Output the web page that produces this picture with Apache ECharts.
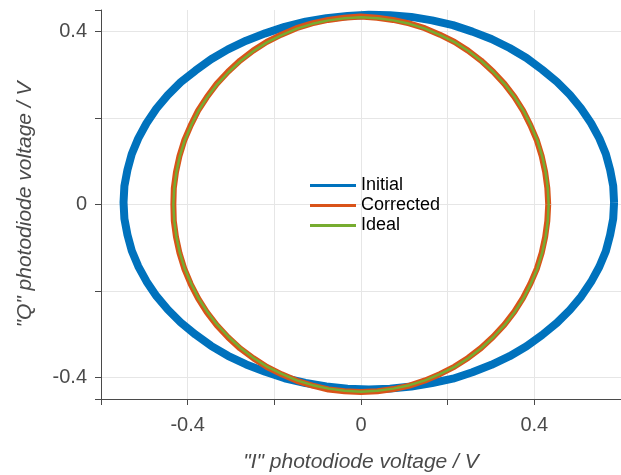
<!DOCTYPE html>
<html>
<head>
<meta charset="utf-8">
<title>IQ photodiode voltages</title>
<script src="https://cdn.jsdelivr.net/npm/echarts@6/dist/echarts.min.js"></script>
<style>
  html, body { margin: 0; padding: 0; background: #fff; }
  #chart { width: 621px; height: 475px; }
</style>
</head>
<body>
<div id="chart"></div>
<script>
// values: [I, Q] in volts, going round each loop
const initialPts = [
  [0.584, 0.005], [0.582, 0.043], [0.575, 0.080], [0.565, 0.117], [0.550, 0.153], [0.531, 0.188],
  [0.508, 0.222], [0.482, 0.254], [0.452, 0.284], [0.418, 0.312], [0.382, 0.339], [0.343, 0.362],
  [0.301, 0.383], [0.257, 0.400], [0.212, 0.415], [0.164, 0.426], [0.116, 0.434], [0.067, 0.438],
  [0.018, 0.439], [-0.031, 0.436], [-0.080, 0.431], [-0.128, 0.423], [-0.176, 0.411], [-0.221, 0.396],
  [-0.265, 0.379], [-0.307, 0.359], [-0.346, 0.336], [-0.382, 0.310], [-0.416, 0.283], [-0.446, 0.253],
  [-0.472, 0.222], [-0.495, 0.188], [-0.514, 0.153], [-0.529, 0.117], [-0.539, 0.080], [-0.546, 0.043],
  [-0.548, 0.005], [-0.546, -0.033], [-0.539, -0.070], [-0.529, -0.107], [-0.514, -0.143], [-0.495, -0.178],
  [-0.472, -0.212], [-0.446, -0.243], [-0.416, -0.273], [-0.382, -0.301], [-0.346, -0.327], [-0.307, -0.350],
  [-0.265, -0.370], [-0.221, -0.387], [-0.176, -0.402], [-0.128, -0.413], [-0.080, -0.421], [-0.031, -0.426],
  [0.018, -0.428], [0.067, -0.426], [0.116, -0.421], [0.164, -0.413], [0.212, -0.403], [0.257, -0.388],
  [0.301, -0.371], [0.343, -0.351], [0.382, -0.328], [0.418, -0.302], [0.452, -0.274], [0.482, -0.244],
  [0.508, -0.213], [0.531, -0.179], [0.550, -0.144], [0.565, -0.108], [0.575, -0.070], [0.582, -0.033],
  [0.584, 0.005]
];
const correctedPts = [
  [0.432, 0.000], [0.430, 0.038], [0.425, 0.075], [0.417, 0.112], [0.406, 0.148], [0.391, 0.183],
  [0.374, 0.217], [0.354, 0.249], [0.331, 0.279], [0.305, 0.307], [0.277, 0.333], [0.247, 0.356],
  [0.216, 0.376], [0.182, 0.393], [0.147, 0.408], [0.111, 0.419], [0.074, 0.427], [0.037, 0.432],
  [-0.001, 0.435], [-0.039, 0.432], [-0.076, 0.427], [-0.113, 0.419], [-0.149, 0.408], [-0.184, 0.393],
  [-0.218, 0.376], [-0.249, 0.356], [-0.279, 0.333], [-0.307, 0.307], [-0.333, 0.279], [-0.356, 0.248],
  [-0.376, 0.217], [-0.393, 0.183], [-0.408, 0.148], [-0.419, 0.112], [-0.427, 0.075], [-0.432, 0.038],
  [-0.433, 0.000], [-0.432, -0.038], [-0.427, -0.075], [-0.419, -0.112], [-0.408, -0.148], [-0.393, -0.184],
  [-0.376, -0.217], [-0.356, -0.249], [-0.333, -0.279], [-0.307, -0.307], [-0.279, -0.333], [-0.248, -0.356],
  [-0.217, -0.376], [-0.183, -0.393], [-0.148, -0.408], [-0.112, -0.419], [-0.075, -0.428], [-0.038, -0.432],
  [0.000, -0.434], [0.038, -0.432], [0.075, -0.427], [0.112, -0.419], [0.148, -0.407], [0.183, -0.392],
  [0.216, -0.375], [0.247, -0.355], [0.277, -0.332], [0.305, -0.306], [0.331, -0.278], [0.354, -0.248],
  [0.374, -0.216], [0.391, -0.183], [0.406, -0.148], [0.417, -0.112], [0.425, -0.075], [0.430, -0.038],
  [0.432, 0.000]
];
const idealPts = [
  [0.433, 0.000], [0.431, 0.038], [0.426, 0.075], [0.418, 0.112], [0.407, 0.148], [0.392, 0.183],
  [0.375, 0.217], [0.355, 0.248], [0.332, 0.278], [0.306, 0.306], [0.278, 0.332], [0.248, 0.355],
  [0.217, 0.375], [0.183, 0.392], [0.148, 0.407], [0.112, 0.418], [0.075, 0.426], [0.038, 0.431],
  [0.000, 0.433], [-0.038, 0.431], [-0.075, 0.426], [-0.112, 0.418], [-0.148, 0.407], [-0.183, 0.392],
  [-0.217, 0.375], [-0.248, 0.355], [-0.278, 0.332], [-0.306, 0.306], [-0.332, 0.278], [-0.355, 0.248],
  [-0.375, 0.217], [-0.392, 0.183], [-0.407, 0.148], [-0.418, 0.112], [-0.426, 0.075], [-0.431, 0.038],
  [-0.433, 0.000], [-0.431, -0.038], [-0.426, -0.075], [-0.418, -0.112], [-0.407, -0.148], [-0.392, -0.183],
  [-0.375, -0.217], [-0.355, -0.248], [-0.332, -0.278], [-0.306, -0.306], [-0.278, -0.332], [-0.248, -0.355],
  [-0.217, -0.375], [-0.183, -0.392], [-0.148, -0.407], [-0.112, -0.418], [-0.075, -0.426], [-0.038, -0.431],
  [0.000, -0.433], [0.038, -0.431], [0.075, -0.426], [0.112, -0.418], [0.148, -0.407], [0.183, -0.392],
  [0.217, -0.375], [0.248, -0.355], [0.278, -0.332], [0.306, -0.306], [0.332, -0.278], [0.355, -0.248],
  [0.375, -0.217], [0.392, -0.183], [0.407, -0.148], [0.418, -0.112], [0.426, -0.075], [0.431, -0.038],
  [0.433, 0.000]
];
const seriesNames = ['Initial', 'Corrected', 'Ideal'];
const seriesColors = ['#0072BD', '#D95319', '#77AC30'];
const xLabels = [-0.4, 0, 0.4];
const yLabels = [-0.4, 0, 0.4];

const font = 'Liberation Sans, Arial, Helvetica, sans-serif';
const axisGray = '#4a4a4a';

// only some of the ticks carry a label
function onlyLabels(list) {
  return function (v) {
    for (let i = 0; i < list.length; i++) {
      if (Math.abs(v - list[i]) < 1e-6) return String(list[i]);
    }
    return '';
  };
}

const myChart = echarts.init(document.getElementById('chart'), null, { renderer: 'canvas' });

const option = {
  animation: false,
  backgroundColor: '#fff',
  grid: { left: 101, right: 0, top: 10, bottom: 76, containLabel: false, outerBoundsMode: 'none' },
  legend: {
    orient: 'vertical',
    left: 310,
    top: 176,
    icon: 'rect',
    itemWidth: 46,
    itemHeight: 3,
    itemGap: 1,
    padding: 0,
    data: seriesNames,
    textStyle: { color: '#000', fontSize: 18, fontFamily: font, lineHeight: 19 }
  },
  xAxis: {
    type: 'value',
    min: -0.6,
    max: 0.6,
    interval: 0.2,
    name: '"I" photodiode voltage / V',
    nameLocation: 'middle',
    nameGap: 53,
    nameTextStyle: { color: axisGray, fontSize: 21, fontStyle: 'italic', fontFamily: font },
    axisLine: { show: true, onZero: false, lineStyle: { color: axisGray, width: 1 } },
    axisTick: { show: true, length: 6, lineStyle: { color: axisGray } },
    axisLabel: { color: axisGray, fontSize: 20, fontFamily: font, margin: 16, formatter: onlyLabels(xLabels) },
    splitLine: { show: true, lineStyle: { color: '#e6e6e6', width: 1 } }
  },
  yAxis: {
    type: 'value',
    min: -0.45,
    max: 0.45,
    splitNumber: 5,
    name: '"Q" photodiode voltage / V',
    nameLocation: 'middle',
    nameGap: 65,
    nameTextStyle: { color: axisGray, fontSize: 21, fontStyle: 'italic', fontFamily: font },
    axisLine: { show: true, onZero: false, lineStyle: { color: axisGray, width: 1 } },
    axisTick: { show: true, length: 6, lineStyle: { color: axisGray } },
    axisLabel: { color: axisGray, fontSize: 20, fontFamily: font, margin: 14, formatter: onlyLabels(yLabels) },
    splitLine: { show: true, showMinLine: false, showMaxLine: false, lineStyle: { color: '#e6e6e6', width: 1 } }
  },
  series: [
    { name: seriesNames[0], type: 'line', data: initialPts, smooth: false, showSymbol: false, symbol: 'none',
      color: seriesColors[0], lineStyle: { width: 8, color: seriesColors[0], join: 'round' } },
    { name: seriesNames[1], type: 'line', data: correctedPts, smooth: false, showSymbol: false, symbol: 'none',
      color: seriesColors[1], lineStyle: { width: 6, color: seriesColors[1], join: 'round' } },
    { name: seriesNames[2], type: 'line', data: idealPts, smooth: false, showSymbol: false, symbol: 'none',
      color: seriesColors[2], lineStyle: { width: 2.5, color: seriesColors[2], join: 'round' } }
  ]
};

myChart.setOption(option);
</script>
</body>
</html>
